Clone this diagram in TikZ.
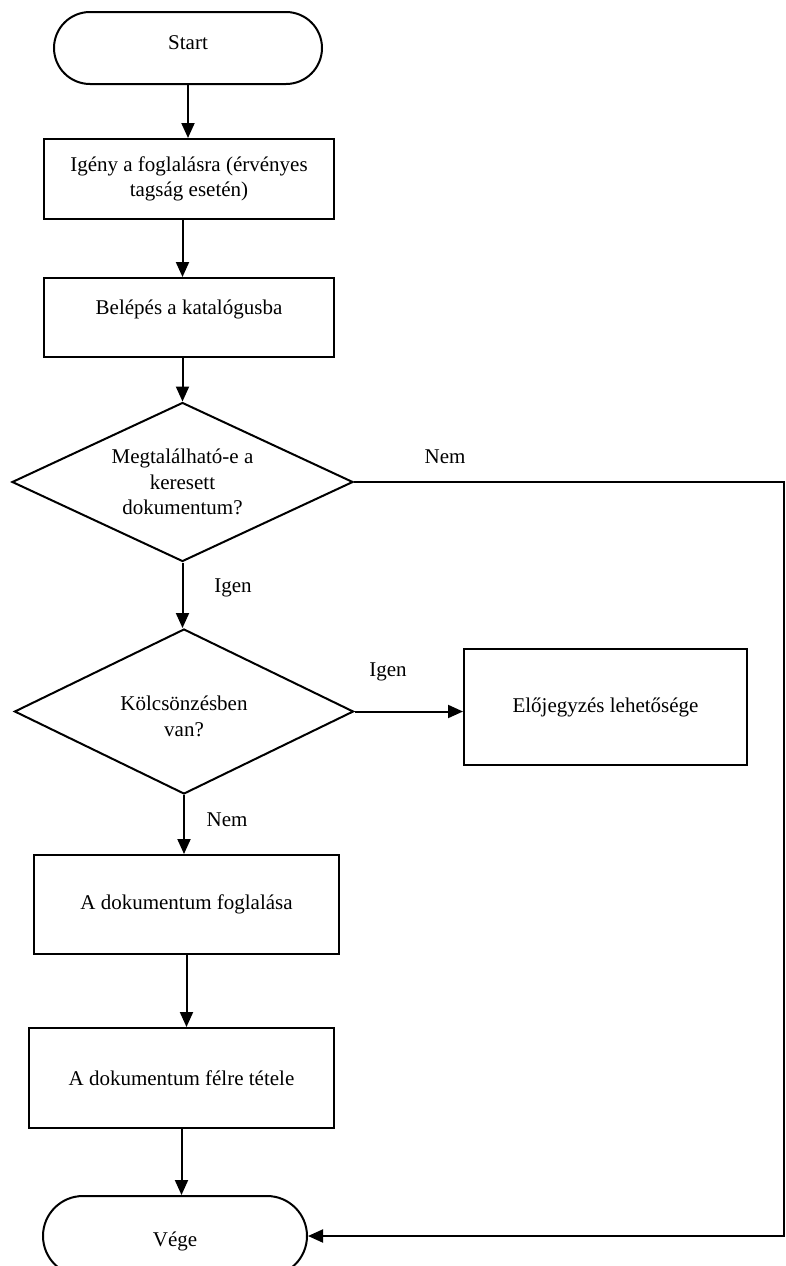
\documentclass[tikz,border=0pt]{standalone}
\usepackage{fontspec}
\setmainfont{Liberation Serif}
\usetikzlibrary{shapes.geometric,shapes.misc,arrows.meta}
\newcommand{\liftxt}[2]{\raisebox{#1}[\height][\depth]{#2}}
\begin{document}
\begin{tikzpicture}[x=1pt,y=-1pt,
  every node/.style={font=\fontsize{21}{25.5}\selectfont, text=black},
  term/.style={draw, rounded rectangle, line width=2pt, minimum width=268pt, minimum height=72pt, inner sep=0pt},
  proc/.style={draw, rectangle, line width=2pt, align=center, inner sep=0pt},
  dec/.style={draw, diamond, line width=2pt, align=center, inner sep=0pt, aspect=2.1},
  flow/.style={line width=2pt, -{Triangle[length=15pt,width=13pt]}},
  lbl/.style={inner sep=0pt}]
\fill[white] (0,0) rectangle (786,1266);
\clip (0,0) rectangle (786,1266);

\node[term] (start) at (188,48) {\liftxt{5pt}{Start}};
\node[proc, minimum width=290pt, minimum height=80pt] (b1) at (189,179) {Igény a foglalásra (érvényes\\tagság esetén)};
\node[proc, minimum width=290pt, minimum height=79pt] (b2) at (189,317.5) {\liftxt{8pt}{Belépés a katalógusba}};
\node[dec, minimum width=341pt, minimum height=159pt] (d1) at (182.5,482) {Megtalálható-e a\\keresett\\dokumentum?};
\node[dec, minimum width=339pt, minimum height=165pt] (d2) at (184,711.5) {\liftxt{-5pt}{Kölcsönzésben}\\\liftxt{-5pt}{van?}};
\node[proc, minimum width=283pt, minimum height=116pt] (pre) at (605.5,707) {Előjegyzés lehetősége};
\node[proc, minimum width=305pt, minimum height=99pt] (fog) at (186.5,904.5) {A dokumentum foglalása};
\node[proc, minimum width=305pt, minimum height=100pt] (fel) at (181.5,1078) {A dokumentum félre tétele};
\node[term, minimum width=264pt, minimum height=80pt] (vege) at (175,1236) {\liftxt{-5pt}{Vége}};

\node[lbl] (nem1) at (445,457) {Nem};
\node[lbl] (igen1) at (233,588) {Igen};
\node[lbl] (igen2) at (388,672) {Igen};
\node[lbl] (nem2) at (227,820) {Nem};

\coordinate (c1) at (784,482);
\coordinate (c2) at (784,1236);

\draw[flow] (start.south) -- (start.south |- b1.north);
\draw[flow] (b1.south -| d1.north) -- (b2.north -| d1.north);
\draw[flow] (b2.south -| d1.north) -- (d1.north);
\draw[flow] (d1.south) -- (d1.south |- d2.north);
\draw[flow] (d2.east) -- (d2.east -| pre.west);
\draw[flow] (d2.south) -- (d2.south |- fog.north);
\draw[flow] (fog.south) -- (fog.south |- fel.north);
\draw[flow] (fel.south) -- (fel.south |- vege.north);
\draw[flow] (d1.east) -- (c1) -- (c2) -- (vege.east);
\end{tikzpicture}
\end{document}
